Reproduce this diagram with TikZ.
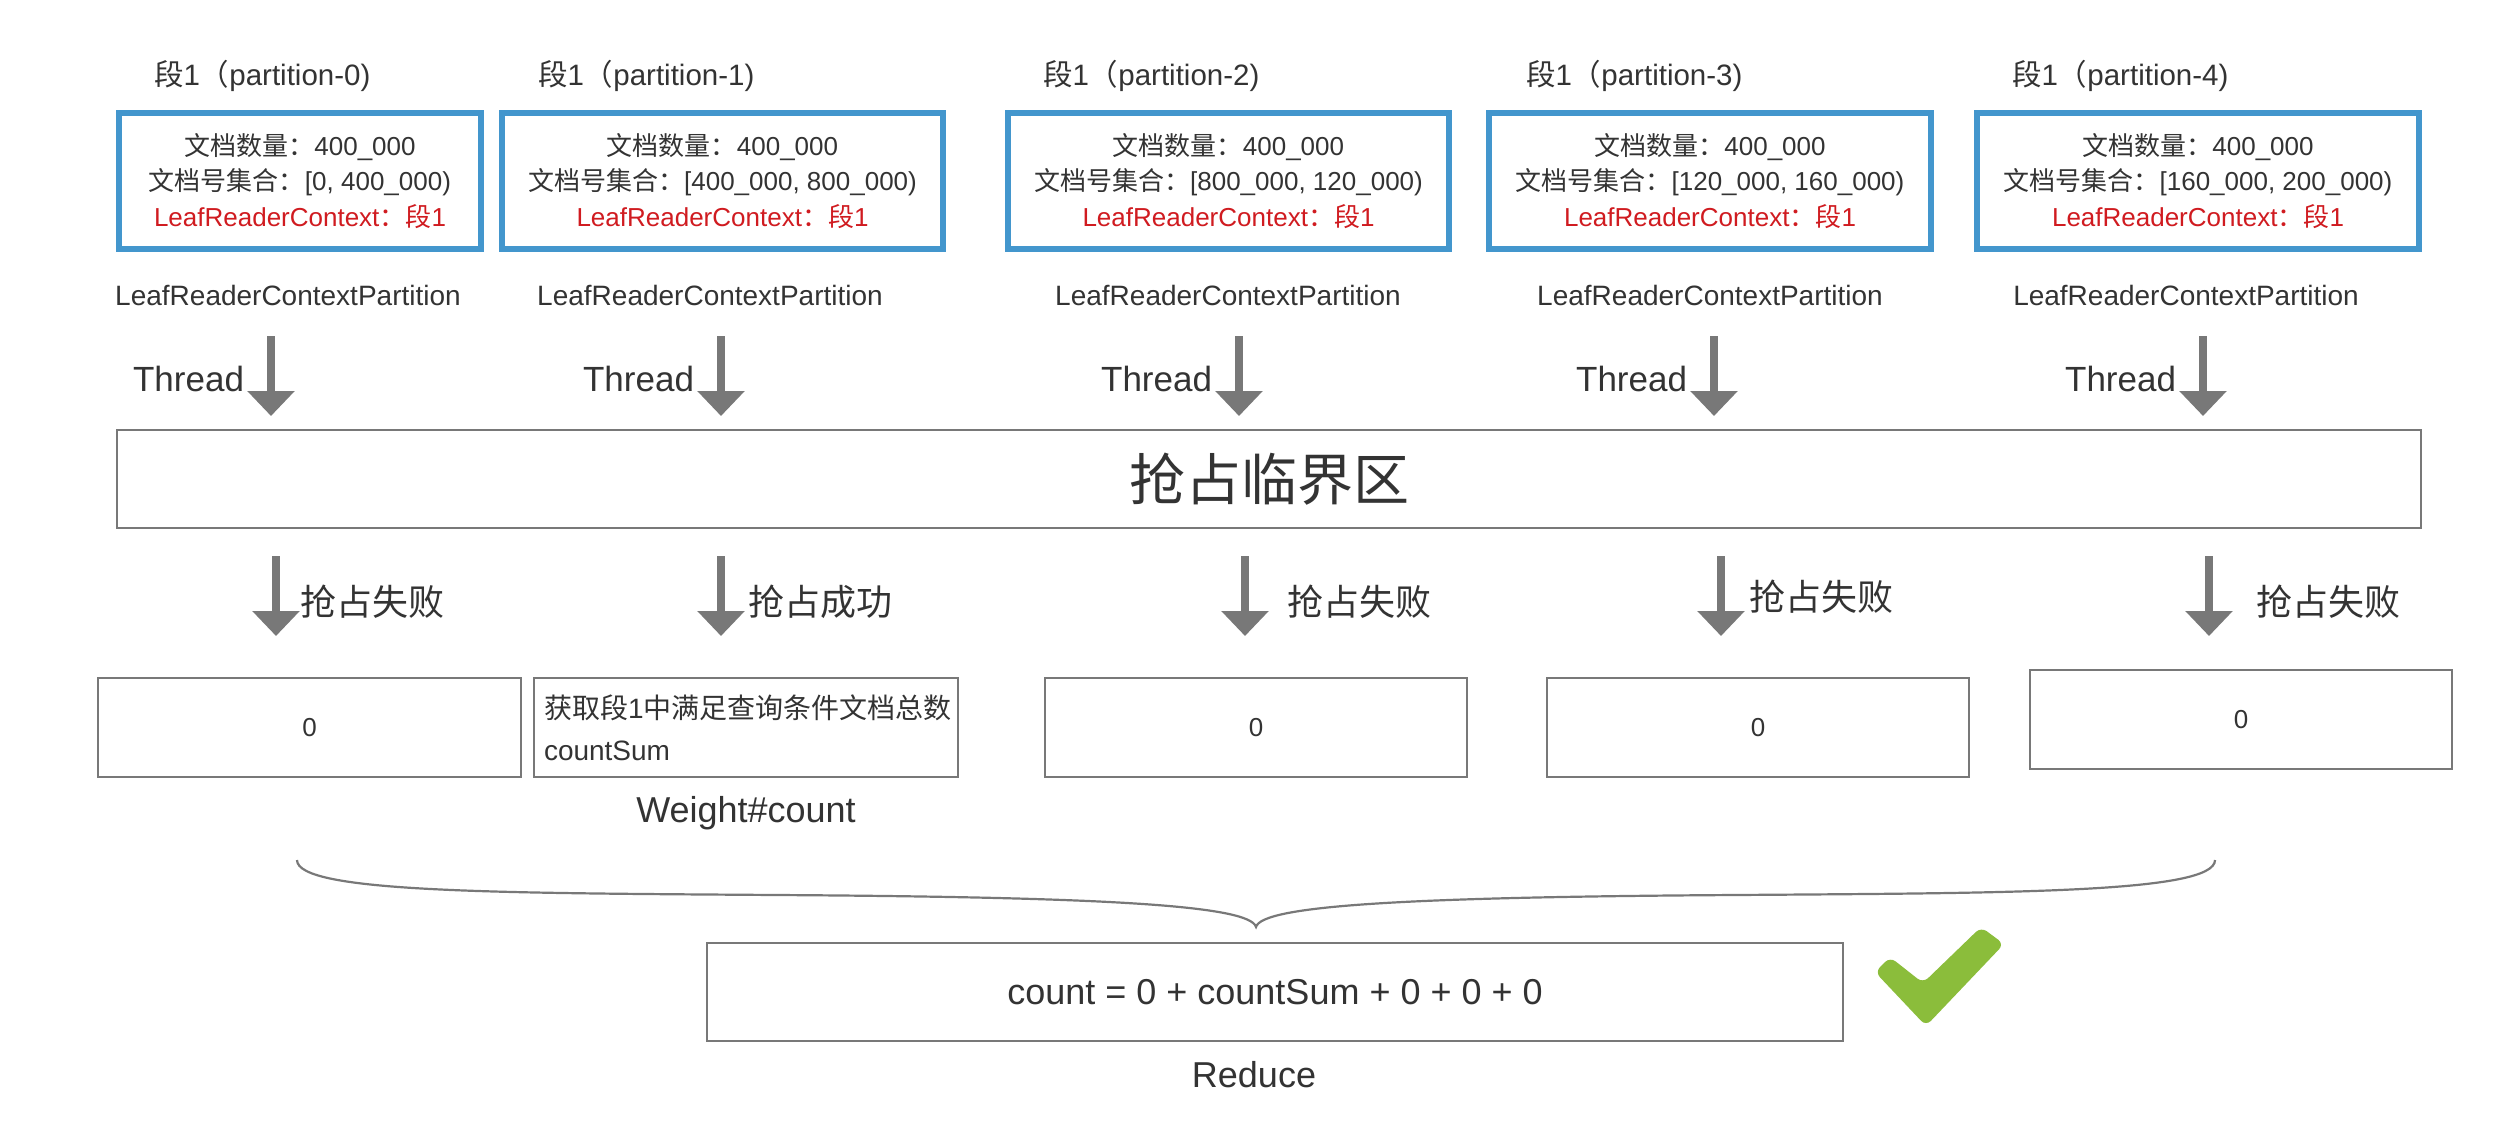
\documentclass[tikz,border=0pt]{standalone}
\usepackage{fontspec}
\setmainfont{Liberation Sans}
\newfontfamily\cjk{Noto Sans CJK SC}
\usetikzlibrary{arrows.meta}
\definecolor{bluebd}{RGB}{67,150,205}
\definecolor{redtx}{RGB}{208,27,32}
\definecolor{graybd}{RGB}{120,120,120}
\definecolor{txt}{RGB}{51,51,51}
\definecolor{okgreen}{RGB}{139,189,59}
\newcommand\pxfont[1]{\fontsize{#1}{#1}\selectfont}
\begin{document}
\begin{tikzpicture}[x=1pt,y=-1pt,
  every node/.style={text=txt, inner sep=0pt, outer sep=0pt},
  segbox/.style={draw=bluebd, line width=6pt, minimum height=136pt, align=center,
    font=\fontsize{26}{35.5}\selectfont},
  segtitle/.style={anchor=west, font=\pxfont{29.5}},
  partlabel/.style={font=\pxfont{28}},
  threadlabel/.style={anchor=east, font=\pxfont{35}},
  fatarrow/.style={draw=graybd, line width=8pt, -{Triangle[width=46pt,length=25pt]}},
  critbox/.style={draw=graybd, line width=2.5pt, minimum width=2304pt, minimum height=98pt,
    font=\cjk\pxfont{56}},
  resultlabel/.style={anchor=west, font=\cjk\pxfont{36}},
  resbox/.style={draw=graybd, line width=2pt, minimum width=423pt, minimum height=99pt,
    font=\pxfont{26}},
  biglabel/.style={font=\pxfont{36}}
]
\useasboundingbox[fill=white] (0,0) rectangle (2508,1132);

% segment titles
\node[segtitle] (t0) at (154,76) {{\cjk 段}1{\cjk （}partition-0)};
\node[segtitle] (t1) at (538,76) {{\cjk 段}1{\cjk （}partition-1)};
\node[segtitle] (t2) at (1043,76) {{\cjk 段}1{\cjk （}partition-2)};
\node[segtitle] (t3) at (1526,76) {{\cjk 段}1{\cjk （}partition-3)};
\node[segtitle] (t4) at (2012,76) {{\cjk 段}1{\cjk （}partition-4)};

% segment boxes
\node[segbox, minimum width=362pt] (b0) at (300,181)
  {{\cjk 文档数量：}400\_000\\{\cjk 文档号集合：}[0, 400\_000)\\\textcolor{redtx}{LeafReaderContext{\cjk ：段}1}};
\node[segbox, minimum width=441pt] (b1) at (722.5,181)
  {{\cjk 文档数量：}400\_000\\{\cjk 文档号集合：}[400\_000, 800\_000)\\\textcolor{redtx}{LeafReaderContext{\cjk ：段}1}};
\node[segbox, minimum width=441pt] (b2) at (1228.5,181)
  {{\cjk 文档数量：}400\_000\\{\cjk 文档号集合：}[800\_000, 120\_000)\\\textcolor{redtx}{LeafReaderContext{\cjk ：段}1}};
\node[segbox, minimum width=442pt] (b3) at (1710,181)
  {{\cjk 文档数量：}400\_000\\{\cjk 文档号集合：}[120\_000, 160\_000)\\\textcolor{redtx}{LeafReaderContext{\cjk ：段}1}};
\node[segbox, minimum width=442pt] (b4) at (2198,181)
  {{\cjk 文档数量：}400\_000\\{\cjk 文档号集合：}[160\_000, 200\_000)\\\textcolor{redtx}{LeafReaderContext{\cjk ：段}1}};

% partition labels
\node[partlabel] (p0) at (288,295) {LeafReaderContextPartition};
\node[partlabel] (p1) at (710,295) {LeafReaderContextPartition};
\node[partlabel] (p2) at (1228,295) {LeafReaderContextPartition};
\node[partlabel] (p3) at (1710,295) {LeafReaderContextPartition};
\node[partlabel] (p4) at (2186,295) {LeafReaderContextPartition};

% thread arrows
\foreach \i/\x in {0/271,1/721,2/1239,3/1714,4/2203}{
  \coordinate (ts\i) at (\x,336);
  \coordinate (te\i) at (\x,416);
  \draw[fatarrow] (ts\i) -- (te\i);
  \node[threadlabel] (th\i) at (\x-27,379) {Thread};
}

% critical section
\node[critbox] (crit) at (1269,479) {抢占临界区};

% lower arrows
\foreach \i/\x in {0/276,1/721,2/1245,3/1721,4/2209}{
  \coordinate (ls\i) at (\x,556);
  \coordinate (le\i) at (\x,636);
  \draw[fatarrow] (ls\i) -- (le\i);
}
\node[resultlabel] (l0) at (300,602) {抢占失败};
\node[resultlabel] (l1) at (748,602) {抢占成功};
\node[resultlabel] (l2) at (1287,602) {抢占失败};
\node[resultlabel] (l3) at (1749,597) {抢占失败};
\node[resultlabel] (l4) at (2256,602) {抢占失败};

% result boxes
\node[resbox] (r0) at (309.5,727.5) {0};
\node[resbox, minimum width=424pt, align=left, text width=404pt, inner xsep=10pt,
  font=\fontsize{28}{42}\selectfont] (r1) at (746,727.5)
  {{\cjk 获取段}1{\cjk 中满足查询条件文档总数}\\countSum};
\node[resbox, minimum width=422pt] (r2) at (1256,727.5) {0};
\node[resbox, minimum width=422pt] (r3) at (1758,727.5) {0};
\node[resbox, minimum width=422pt] (r4) at (2241,719.5) {0};

\node[biglabel] (wc) at (746,813) {Weight\#count};

% brace
\coordinate (brL) at (297,860);
\coordinate (brT) at (1256,927);
\coordinate (brR) at (2215,860);
\draw[graybd, line width=2.2pt]
  (brL) .. controls (297,893) and (500,893) .. (776,895)
        .. controls (1100,897) and (1250,905) .. (brT)
        .. controls (1262,905) and (1412,897) .. (1736,895)
        .. controls (2012,893) and (2215,893) .. (brR);

% reduce
\node[draw=graybd, line width=2.5pt, minimum width=1136pt, minimum height=98pt,
  font=\pxfont{36}] (red) at (1275,992) {count = 0 + countSum + 0 + 0 + 0};
\node[biglabel] (redl) at (1254,1075) {Reduce};

% check mark
\fill[okgreen, rounded corners=7pt]
  (1875,972) -- (1890,957) -- (1923,983) -- (1981,927) -- (2004,944)
  -- (1926,1026) -- cycle;
\end{tikzpicture}
\end{document}
